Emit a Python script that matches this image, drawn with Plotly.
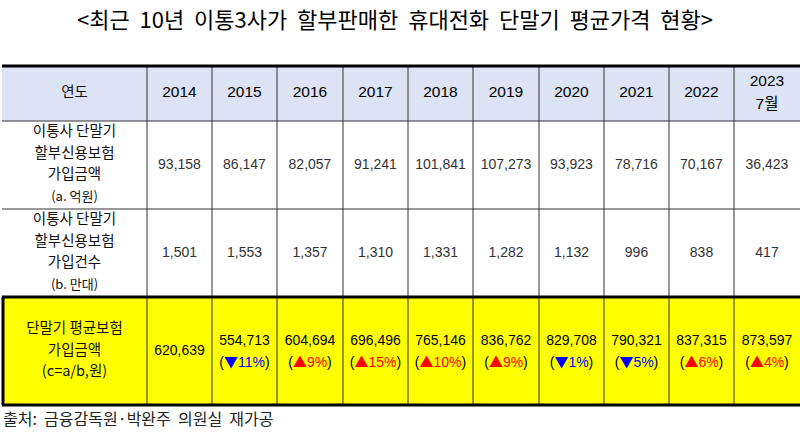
# import library

import plotly.graph_objects as go

# data

years = ["2014", "2015", "2016", "2017", "2018", "2019", "2020", "2021", "2022", "2023\n7월"]
amount_a = ["93,158", "86,147", "82,057", "91,241", "101,841", "107,273", "93,923", "78,716", "70,167", "36,423"]
count_b = ["1,501", "1,553", "1,357", "1,310", "1,331", "1,282", "1,132", "996", "838", "417"]
avg_c = ["620,639", "554,713", "604,694", "696,496", "765,146", "836,762", "829,708", "790,321", "837,315", "873,597"]
change_pct = [None, -11, 9, 15, 10, 9, -1, -5, 6, 4]

row_labels = [
    ["연도"],
    ["이통사 단말기", "할부신용보험", "가입금액", "(a. 억원)"],
    ["이통사 단말기", "할부신용보험", "가입건수", "(b. 만대)"],
    ["단말기 평균보험", "가입금액", "(c=a/b,원)"],
]

title = "<최근  10년  이통3사가  할부판매한  휴대전화  단말기  평균가격  현황>"
source = "출처:  금융감독원·박완주  의원실  재가공"

# layout helpers (pixel coords)
col_edges = [2, 147, 212, 277, 343, 408, 473, 539, 604, 669, 734, 800]
row_edges = [66, 121, 209, 297, 405]
col_mid = [(col_edges[i] + col_edges[i + 1]) / 2 for i in range(len(col_edges) - 1)]
row_mid = [(row_edges[i] + row_edges[i + 1]) / 2 for i in range(len(row_edges) - 1)]

FONT = "Noto Sans CJK KR"
NUM_FONT = "Liberation Sans, Arial, Noto Sans CJK KR"
fig = go.Figure()


def add_text(xs, ys, texts, size=14, color="#111", family=FONT):
    fig.add_trace(go.Scatter(x=xs, y=ys, text=texts, mode="text",
                             textfont=dict(family=family, size=size, color=color),
                             hoverinfo="skip", showlegend=False))


# fills
fig.add_shape(type="rect", x0=col_edges[0], x1=col_edges[-1], y0=row_edges[0], y1=row_edges[1],
              fillcolor="#dce3f4", line_width=0, layer="below")
fig.add_shape(type="rect", x0=col_edges[0], x1=col_edges[-1], y0=row_edges[3], y1=row_edges[4],
              fillcolor="#ffff00", line_width=0, layer="below")

# grid lines
for x in col_edges[1:-1]:
    fig.add_shape(type="line", x0=x, x1=x, y0=row_edges[0], y1=row_edges[-1],
                  line=dict(color="#333", width=1))
for y in row_edges[1:3]:
    fig.add_shape(type="line", x0=col_edges[0], x1=col_edges[-1], y0=y, y1=y,
                  line=dict(color="#333", width=1))
for y in [row_edges[0], row_edges[3], row_edges[4]]:
    fig.add_shape(type="line", x0=col_edges[0], x1=col_edges[-1], y0=y, y1=y,
                  line=dict(color="#000", width=3))
fig.add_shape(type="line", x0=col_edges[0] + 1, x1=col_edges[0] + 1, y0=row_edges[3], y1=row_edges[4],
              line=dict(color="#000", width=3))

# header row
add_text([col_mid[0]], [row_mid[0]], row_labels[0], size=14.5)
hx, hy, ht = [], [], []
for i, yr in enumerate(years):
    parts = yr.split("\n")
    for j, p in enumerate(parts):
        hx.append(col_mid[i + 1])
        hy.append(row_mid[0] + (j - (len(parts) - 1) / 2) * 23)
        ht.append(p)
add_text(hx, hy, ht, size=15.5, color="#000", family=NUM_FONT)

# row labels
line_gap = 21.5
for r in (1, 2, 3):
    lines = row_labels[r]
    n = len(lines)
    for j, ln in enumerate(lines):
        y = row_mid[r] + (j - (n - 1) / 2) * line_gap
        size = 13 if ln.startswith("(") and r < 3 else 14.5
        add_text([col_mid[0]], [y], [ln], size=size)

# values
add_text(col_mid[1:], [row_mid[1]] * len(amount_a), amount_a, size=14, color="#333", family=NUM_FONT)
add_text(col_mid[1:], [row_mid[2]] * len(count_b), count_b, size=14, color="#333", family=NUM_FONT)

tri = "<span style='font-family:Noto Sans CJK KR'>{}</span>"
cx, cy, ct = [], [], []
px_, py_, pt_ = [], [], []
for i, (v, p) in enumerate(zip(avg_c, change_pct)):
    if p is None:
        cx.append(col_mid[i + 1]); cy.append(row_mid[3]); ct.append(v)
        continue
    cx.append(col_mid[i + 1]); cy.append(row_mid[3] - 10); ct.append(v)
    if p < 0:
        inner = "<span style='color:#0000ff'>" + tri.format("▼") + f"{abs(p)}%</span>"
    else:
        inner = "<span style='color:#ff0000'>" + tri.format("▲") + f"{p}%</span>"
    px_.append(col_mid[i + 1]); py_.append(row_mid[3] + 12); pt_.append("(" + inner + ")")
add_text(cx, cy, ct, size=14, color="#000", family=NUM_FONT)
add_text(px_, py_, pt_, size=14, color="#000", family=NUM_FONT)

# title and source
fig.add_annotation(x=395, y=18, text=title, showarrow=False, xref="x", yref="y",
                   font=dict(family=FONT, size=22, color="#000"))
fig.add_annotation(x=1, y=418, text=source, showarrow=False, xref="x", yref="y", xanchor="left",
                   font=dict(family=FONT, size=16, color="#222"))

fig.update_layout(
    width=800, height=433,
    margin=dict(l=0, r=0, t=0, b=0),
    paper_bgcolor="white", plot_bgcolor="white",
    xaxis=dict(range=[0, 800], visible=False, fixedrange=True),
    yaxis=dict(range=[433, 0], visible=False, fixedrange=True),
)

# page has a default body margin, drop it so the figure fills the window
fig.write_html("out.html", config={"displayModeBar": False},
               post_script="document.body.style.margin='0';document.body.style.overflow='hidden';")
